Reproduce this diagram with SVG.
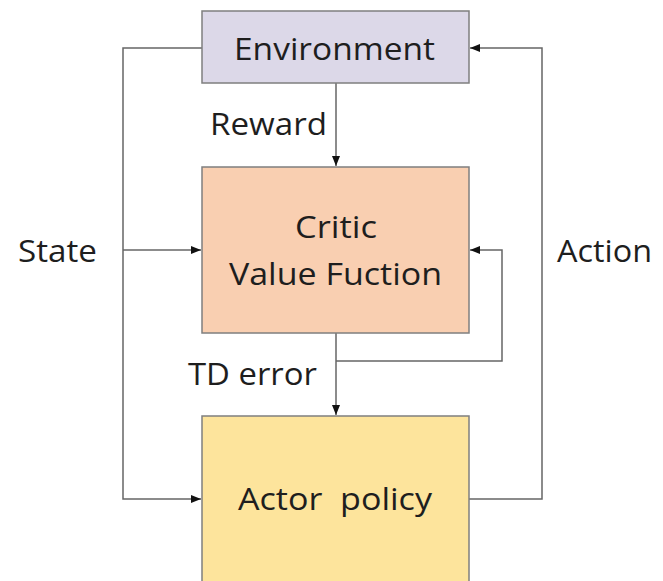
<svg xmlns="http://www.w3.org/2000/svg" width="663" height="581" viewBox="0 0 663 581">
  <style>
    .box { stroke: #7f7f7f; stroke-width: 1.5; }
    .lbl { font-family: "Open Sans", "Liberation Sans", sans-serif; font-size: 31px; fill: #1e1e1e; }
    .wire { fill: none; stroke: #666; stroke-width: 1.5; }
  </style>
  <defs>
    <marker id="arrow" viewBox="0 0 10 10" refX="10" refY="5" markerWidth="10" markerHeight="10" markerUnits="userSpaceOnUse" orient="auto">
      <path d="M0,1 L10,5 L0,9 Z" fill="#111"/>
    </marker>
  </defs>
  <rect width="663" height="581" fill="#ffffff"/>

  <g id="connectors">
    <!-- State: environment to critic and actor -->
    <path class="wire" d="M202,48 H123 V499 H201" marker-end="url(#arrow)"/>
    <path class="wire" d="M123,250 H201" marker-end="url(#arrow)"/>
    <!-- Action: actor back to environment -->
    <path class="wire" d="M469,499 H542 V48 H470" marker-end="url(#arrow)"/>
    <!-- Reward -->
    <path class="wire" d="M336,83 V166" marker-end="url(#arrow)"/>
    <!-- TD error -->
    <path class="wire" d="M336,333 V415" marker-end="url(#arrow)"/>
    <!-- TD error fed back into critic -->
    <path class="wire" d="M336,361 H502 V250 H470" marker-end="url(#arrow)"/>
  </g>

  <g id="environment">
    <rect class="box" x="202" y="11" width="267" height="72" fill="#dcd8e8"/>
    <text class="lbl" x="234" y="60" textLength="201" lengthAdjust="spacingAndGlyphs">Environment</text>
  </g>

  <g id="critic">
    <rect class="box" x="202" y="167" width="267" height="166" fill="#f9cfb1"/>
    <text class="lbl" x="295" y="238" textLength="82" lengthAdjust="spacingAndGlyphs">Critic</text>
    <text class="lbl" x="229" y="285" textLength="213" lengthAdjust="spacingAndGlyphs">Value Fuction</text>
  </g>

  <g id="actor">
    <rect class="box" x="202" y="416" width="267" height="175" fill="#fde49c"/>
    <text class="lbl" x="238" y="510" textLength="194" lengthAdjust="spacingAndGlyphs" xml:space="preserve">Actor  policy</text>
  </g>

  <g id="labels">
    <text class="lbl" x="210" y="135" textLength="117" lengthAdjust="spacingAndGlyphs">Reward</text>
    <text class="lbl" x="188" y="385" textLength="129" lengthAdjust="spacingAndGlyphs">TD error</text>
    <text class="lbl" x="18" y="262" textLength="79" lengthAdjust="spacingAndGlyphs">State</text>
    <text class="lbl" x="557" y="262" textLength="95" lengthAdjust="spacingAndGlyphs">Action</text>
  </g>
</svg>
